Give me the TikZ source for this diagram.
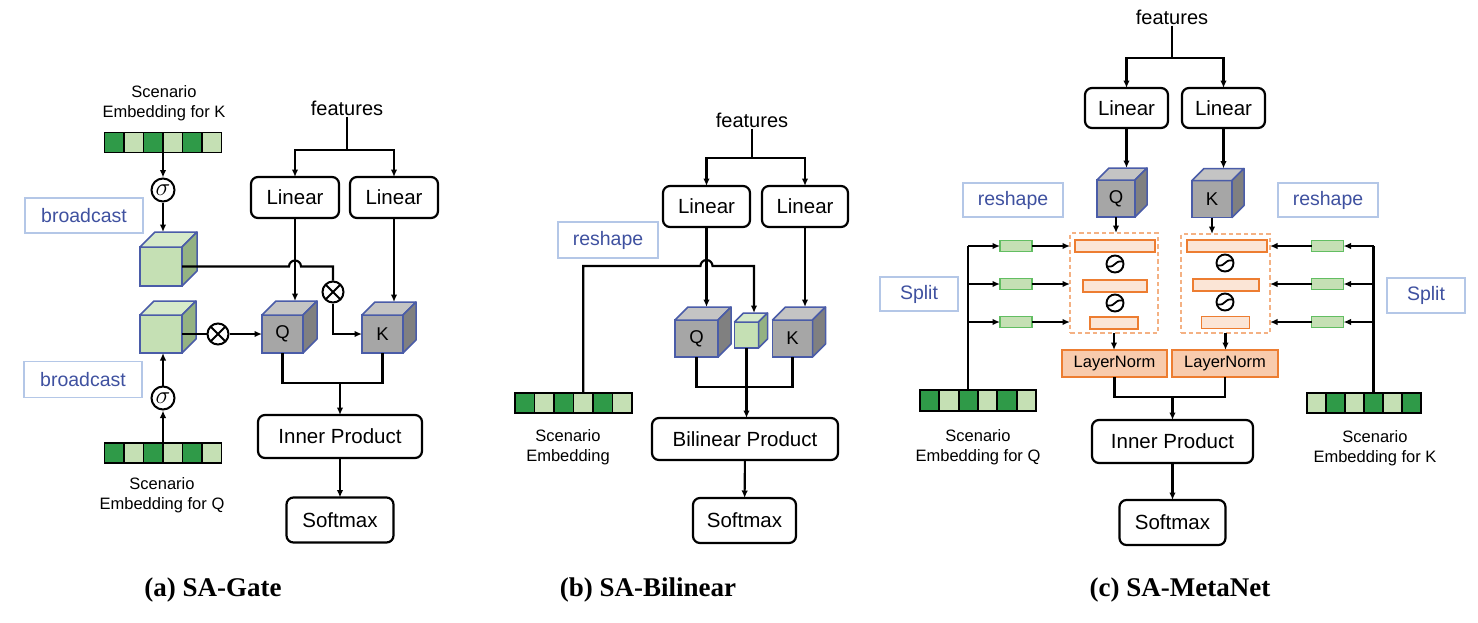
\documentclass[tikz,border=0pt]{standalone}
\usepackage{fontspec}
\setmainfont{Liberation Sans}
\newfontfamily\capfont{Liberation Serif}
\usetikzlibrary{arrows.meta,calc}
\definecolor{grayF}{HTML}{A6A6A6}
\definecolor{grayT}{HTML}{C4C4C4}
\definecolor{grayS}{HTML}{808080}
\definecolor{greenF}{HTML}{C5E0B4}
\definecolor{greenT}{HTML}{D6EACA}
\definecolor{greenS}{HTML}{94B282}
\definecolor{edgeB}{HTML}{4A5CA8}
\definecolor{dkG}{HTML}{2F9A48}
\definecolor{ltG}{HTML}{C5E0B4}
\definecolor{barG}{HTML}{62BE62}
\definecolor{lblB}{HTML}{B4C7E7}
\definecolor{lblT}{HTML}{3F51A0}
\definecolor{orgB}{HTML}{ED7D31}
\definecolor{orgF}{HTML}{FBE5D6}
\definecolor{lnF}{HTML}{F8CBAD}
\definecolor{dashO}{HTML}{F4B183}
\newcommand\mycube[8]{%
  \node[cubefront, fill=#7F, minimum width=#4pt, minimum height=#5pt] (#1) at (#2,#3) {#8};
  \path (#1.north west) ++(#6,-#6) coordinate (#1tl);
  \path (#1.north east) ++(#6,-#6) coordinate (#1tr);
  \path (#1.south east) ++(#6,-#6) coordinate (#1br);
  \draw[cubeedge, fill=#7T] (#1.north west) -- (#1tl) -- (#1tr) -- (#1.north east) -- cycle;
  \draw[cubeedge, fill=#7S] (#1.north east) -- (#1tr) -- (#1br) -- (#1.south east) -- cycle;
}
\newcommand\embbar[6]{%
  \node[minimum width=#4pt, minimum height=#5pt, inner sep=0pt, outer sep=0pt] (#1) at (#2,#3) {};
  \foreach \c [count=\i from 0] in {#6} {
    \pgfmathsetmacro\xa{#2-#4/2+\i*#4/6}
    \pgfmathsetmacro\xb{\xa+#4/6}
    \draw[line width=1.9pt, fill=\c] (\xa,#3-#5/2) rectangle (\xb,#3+#5/2);
  }
}
\newcommand\sigm[1]{%
  \draw[line width=1.8pt] ($(#1.center)+(-7,2.5)$) .. controls ($(#1.center)+(1,3.5)$) and ($(#1.center)+(-1,-3.5)$) .. ($(#1.center)+(7,-2.5)$);
}
\tikzset{
  ln/.style={line width=2.1pt, draw=black},
  arr/.style={ln, -{Latex[length=7.5pt,width=6.5pt]}},
  box/.style={draw, line width=2.2pt, rounded corners=7pt, font=\fontsize{20.5}{24}\selectfont, inner sep=0pt, outer sep=0pt},
  lbl/.style={draw=lblB, line width=1.4pt, text=lblT, font=\fontsize{19.5}{22}\selectfont, inner sep=0pt, outer sep=0pt},
  sm/.style={font=\fontsize{16.5}{20}\selectfont, align=center, inner sep=0pt},
  feat/.style={font=\fontsize{20}{24}\selectfont, inner sep=1pt},
  cubefront/.style={draw=edgeB, line width=1.5pt, inner sep=0pt, outer sep=0pt, font=\fontsize{18.5}{20}\selectfont},
  cubeedge/.style={draw=edgeB, line width=1.5pt, line join=round},
  capt/.style={font=\capfont\bfseries\fontsize{27}{32}\selectfont},
  sigc/.style={circle, draw, line width=2pt, minimum size=23pt, inner sep=0pt, font=\fontsize{23}{24}\selectfont},
  otim/.style={circle, draw, line width=2pt, minimum size=21pt, inner sep=0pt,
    path picture={\draw[line width=1.9pt] (path picture bounding box.north west) -- (path picture bounding box.south east)
      (path picture bounding box.north east) -- (path picture bounding box.south west);}},
  sgc/.style={circle, draw, line width=1.9pt, minimum size=17pt, inner sep=0pt},
  gbar/.style={draw=barG, fill=greenF, line width=1.5pt, minimum width=32pt, minimum height=11pt, inner sep=0pt, outer sep=0pt},
  obar/.style={draw=orgB, fill=orgF, line width=1.6pt, minimum height=12pt, inner sep=0pt, outer sep=0pt},
  lnorm/.style={draw=orgB, fill=lnF, line width=1.6pt, minimum height=27pt, inner sep=0pt, outer sep=0pt, font=\fontsize{16.5}{20}\selectfont},
  dbox/.style={draw=dashO, dashed, dash pattern=on 4.5pt off 3pt, line width=1.6pt, inner sep=0pt, outer sep=0pt},
}
\begin{document}
\begin{tikzpicture}[x=1pt, y=-1pt]
\useasboundingbox[fill=white] (0,0) rectangle (1478,622);

% ================= (a) SA-Gate =================
\node[feat] (fa) at (347,108) {features};
\coordinate (ja) at (347,150);
\node[box, minimum width=88pt, minimum height=41pt] (la1) at (295,197.5) {Linear};
\node[box, minimum width=88pt, minimum height=41pt] (la2) at (394,197.5) {Linear};
\draw[ln] (fa.south) -- (ja);
\draw[arr] (ja) -| (la1);
\draw[arr] (ja) -| (la2);

\node[sm] (tka) at (164,103) {Scenario\\Embedding for K};
\embbar{eka}{163}{142.5}{117}{20}{dkG,ltG,dkG,ltG,dkG,ltG}
\node[sigc] (s1) at (163,190) {$\sigma$};
\mycube{g1}{161}{266.5}{42}{39}{15}{green}{}
\node[lbl, minimum width=118pt, minimum height=35pt] (b1) at (84,215.5) {broadcast};
\draw[arr] (eka) -- (s1);
\draw[arr] (s1) -- (s1 |- g1tl);

\mycube{qa}{282.5}{334}{41}{38}{14}{gray}{Q}
\mycube{ka}{382.5}{334}{41}{38}{13}{gray}{K}
\draw[arr] (la1) -- (la1 |- qatl);
\draw[arr] (la2) -- (la2 |- katl);

\node[otim] (ota) at (333,292) {};
\draw[ln] (g1.east) -- (289,266.5) arc[start angle=180, end angle=0, radius=6pt] -- (333,266.5) -- (ota);
\draw[arr] (ota) |- (ka.west);

\mycube{g2}{161}{334}{42}{38}{14}{green}{}
\node[otim] (oxb) at (218,334) {};
\draw[ln] (g2.east) -- (oxb);
\draw[arr] (oxb) -- (qa.west);

\node[sigc] (s2) at (163,398) {$\sigma$};
\embbar{eqa}{163}{453}{117}{20}{dkG,ltG,dkG,ltG,dkG,ltG}
\node[lbl, minimum width=118pt, minimum height=36pt] (b2) at (83,379.5) {broadcast};
\draw[arr] (eqa) -- (s2);
\draw[arr] (s2) -- (g2.south -| s2);
\node[sm] (tqa) at (162,495) {Scenario\\Embedding for Q};

\node[box, minimum width=164pt, minimum height=43pt] (ipa) at (340,436.5) {Inner Product};
\node[box, minimum width=107pt, minimum height=45pt] (sa) at (340,520) {Softmax};
\coordinate (jqa) at (340,383);
\draw[ln] (qa.south) -- (282.5,383) -| (ka.south);
\draw[arr] (jqa) -- (ipa);
\draw[arr] (ipa) -- (sa);
\node[capt] (capa) at (213,590) {(a) SA-Gate};

% ================= (b) SA-Bilinear =================
\node[feat] (fb) at (752,120) {features};
\coordinate (jb) at (752,158);
\node[box, minimum width=87pt, minimum height=41pt] (lb1) at (706.5,206.5) {Linear};
\node[box, minimum width=86pt, minimum height=41pt] (lb2) at (805,206.5) {Linear};
\draw[ln] (fb.south) -- (jb);
\draw[arr] (jb) -| (lb1);
\draw[arr] (jb) -| (lb2);

\node[lbl, minimum width=100pt, minimum height=36pt] (rb) at (608,240) {reshape};
\mycube{qb}{696.5}{338.5}{43}{37}{13}{gray}{Q}
\mycube{gb}{746.5}{335}{24}{26}{9}{green}{}
\mycube{kb}{792.5}{338.5}{40}{37}{13}{gray}{K}
\draw[arr] (lb1) -- (lb1 |- qbtl);
\draw[arr] (lb2) -- (lb2 |- kbtl);

\embbar{eb}{573.5}{403}{117}{20}{dkG,ltG,dkG,ltG,dkG,ltG}
\node[sm] (tb) at (568,447) {Scenario\\Embedding};
\coordinate (hb) at (754,266);
\draw[arr] ([xshift=9.75pt]eb.north) |- (700.5,266) arc[start angle=180, end angle=0, radius=6pt] -- (hb) -- (hb |- gbtl);

\node[box, minimum width=186pt, minimum height=42pt] (bp) at (745,439) {Bilinear Product};
\node[box, minimum width=103pt, minimum height=45pt] (sb) at (744.5,520.5) {Softmax};
\draw[ln] (qb.south) -- (696.5,387) -| (kb.south);
\draw[arr] (gb.south) -- (gb.south |- bp.north);
\draw[arr] (bp) -- (sb);
\node[capt] (capb) at (648,590) {(b) SA-Bilinear};

% ================= (c) SA-MetaNet =================
\node[feat] (fc) at (1172,17) {features};
\coordinate (jc) at (1172,58);
\node[box, minimum width=83pt, minimum height=40pt] (lc1) at (1126.5,108) {Linear};
\node[box, minimum width=83pt, minimum height=40pt] (lc2) at (1223.5,108) {Linear};
\draw[ln] (fc.south) -- (jc);
\draw[arr] (jc) -| (lc1);
\draw[arr] (jc) -| (lc2);

\mycube{qc}{1116}{198.5}{38}{37}{12}{gray}{Q}
\mycube{kc}{1212}{199}{40}{37}{12}{gray}{K}
\draw[arr] (lc1) -- (lc1 |- qctl);
\draw[arr] (lc2) -- (lc2 |- kctl);

\node[lbl, minimum width=100pt, minimum height=34pt] (rq) at (1013,200) {reshape};
\node[lbl, minimum width=100pt, minimum height=34pt] (rk) at (1328,200) {reshape};
\node[lbl, minimum width=78pt, minimum height=34pt] (spq) at (919,294) {Split};
\node[lbl, minimum width=78pt, minimum height=35pt] (spk) at (1426,295.5) {Split};

\node[dbox, minimum width=88pt, minimum height=100pt] (dq) at (1114,283) {};
\node[dbox, minimum width=89pt, minimum height=99pt] (dk) at (1225.5,283.5) {};
\node[obar, minimum width=80pt] (oq1) at (1115,246) {};
\node[obar, minimum width=64pt] (oq2) at (1115,286) {};
\node[obar, minimum width=48pt] (oq3) at (1114,323) {};
\node[obar, minimum width=80pt] (ok1) at (1227,246) {};
\node[obar, minimum width=66pt] (ok2) at (1226,285) {};
\node[obar, minimum width=48pt] (ok3) at (1225.5,322.5) {};
\node[sgc] (cq1) at (1115,264) {}; \sigm{cq1}
\node[sgc] (cq2) at (1115,303) {}; \sigm{cq2}
\node[sgc] (ck1) at (1225,263) {}; \sigm{ck1}
\node[sgc] (ck2) at (1225,302) {}; \sigm{ck2}
\draw[arr] (qc.south) -- (qc.south |- dq.north);
\draw[arr] (kc.south) -- (kc.south |- dk.north);

\node[lnorm, minimum width=105pt] (ln1) at (1114.5,363.5) {LayerNorm};
\node[lnorm, minimum width=106pt] (ln2) at (1225,363.5) {LayerNorm};
\draw[arr] (dq.south) -- (dq.south |- ln1.north);
\draw[arr] (dk.south) -- (dk.south |- ln2.north);

\node[box, minimum width=161pt, minimum height=43pt] (ipc) at (1172.5,441.5) {Inner Product};
\node[box, minimum width=106pt, minimum height=45pt] (sc) at (1172.5,522.5) {Softmax};
\coordinate (jqc) at (1172.5,397);
\draw[ln] (ln1.south) -- (ln1.south |- jqc) -- (ln2.south |- jqc) -- (ln2.south);
\draw[arr] (jqc) -- (ipc);
\draw[arr] (ipc) -- (sc);

% left scenario embedding for Q
\embbar{eq}{978}{400.5}{116}{21}{dkG,ltG,dkG,ltG,dkG,ltG}
\node[sm] (tqc) at (978,447) {Scenario\\Embedding for Q};
\coordinate (vq) at (968,246);
\draw[ln] ([xshift=-10pt]eq.north) -- (vq);
\foreach \yy [count=\k] in {246,284,322} {
  \node[gbar] (gq\k) at (1016,\yy) {};
  \draw[arr] (968,\yy) -- (gq\k.west);
  \draw[arr] (gq\k.east) -- (dq.west |- gq\k);
}

% right scenario embedding for K
\embbar{ek}{1364}{403}{114}{20}{ltG,dkG,ltG,dkG,ltG,dkG}
\node[sm] (tkc) at (1375,448) {Scenario\\Embedding for K};
\coordinate (vk) at (1373.5,246);
\draw[ln] ([xshift=9.5pt]ek.north) -- (vk);
\foreach \yy [count=\k] in {246,284,322} {
  \node[gbar] (gk\k) at (1327.5,\yy) {};
  \draw[arr] (1373.5,\yy) -- (gk\k.east);
  \draw[arr] (gk\k.west) -- (dk.east |- gk\k);
}
\node[capt] (capc) at (1180,590) {(c) SA-MetaNet};
\end{tikzpicture}
\end{document}
